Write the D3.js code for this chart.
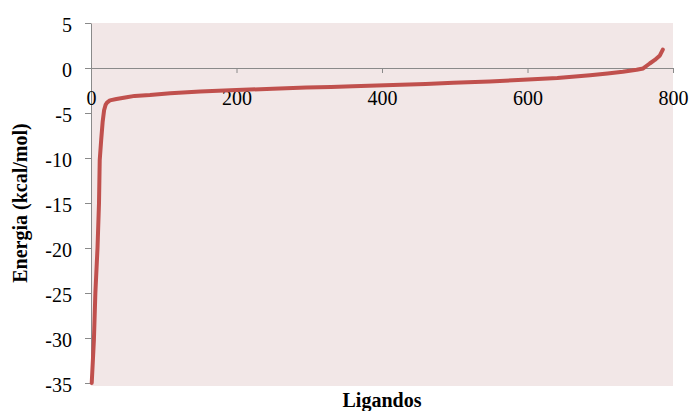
<!DOCTYPE html>
<html>
<head>
<meta charset="utf-8">
<script src="https://cdn.jsdelivr.net/npm/d3@7"></script>
<style>
  html, body { margin: 0; padding: 0; background: #ffffff; }
  svg { display: block; }
  .tick text { font-family: "Liberation Serif", "Times New Roman", serif; font-size: 20px; fill: #000; }
</style>
</head>
<body>
<svg id="chart" width="691" height="411"></svg>
<script>
// Ligand rank (sorted by docking energy) and the energy at that rank
const ranks = [1, 4, 6, 9, 11, 12, 14, 16, 18, 20, 22, 26, 35, 49, 60, 81, 109, 150, 200, 250,
               296, 330, 360, 415, 460, 498, 548, 594, 641, 686, 710, 731, 750, 759, 768, 775, 782, 786];
const energies = [-35, -30.2, -25, -19.9, -15, -10.2, -8, -6, -4.7, -4.1, -3.85, -3.6, -3.45, -3.25, -3.1, -3.0, -2.8, -2.62, -2.45, -2.3,
                  -2.18, -2.1, -2.03, -1.9, -1.78, -1.65, -1.5, -1.3, -1.1, -0.8, -0.6, -0.42, -0.2, -0.05, 0.5, 0.9, 1.4, 2.05];

const xTicks = [0, 200, 400, 600, 800];
const yTicks = [5, 0, -5, -10, -15, -20, -25, -30, -35];

const xTitle = "Ligandos";
const yTitle = "Energia (kcal/mol)";

const svg = d3.select("#chart");
const plotLeft = 91, plotRight = 673, plotTop = 23, plotBottom = 383;

const x = d3.scaleLinear().domain([0, 800]).range([plotLeft, plotRight]);
const y = d3.scaleLinear().domain([-35, 5]).range([plotBottom, plotTop]);

// tick labels use a plain hyphen for negatives
const plainNumber = d => String(d);

// plot area fill
svg.append("rect")
  .attr("x", plotLeft).attr("y", plotTop)
  .attr("width", plotRight - plotLeft).attr("height", plotBottom - plotTop + 3)
  .attr("fill", "#f2e7e7");

const axisColor = "#8a8a8a";

// vertical axis
const gy = svg.append("g")
  .attr("transform", `translate(${plotLeft},0)`)
  .call(d3.axisLeft(y).tickValues(yTicks).tickFormat(plainNumber)
    .tickSize(6).tickSizeOuter(0).tickPadding(13));
gy.select(".domain").attr("stroke", axisColor);
gy.selectAll(".tick line").attr("stroke", axisColor);
gy.selectAll(".tick text").attr("dy", "0.4em");

// horizontal axis drawn through zero
const gx = svg.append("g")
  .attr("transform", `translate(0,${y(0)})`)
  .call(d3.axisBottom(x).tickValues(xTicks).tickFormat(plainNumber)
    .tickSize(5).tickSizeOuter(0));
gx.select(".domain").attr("stroke", axisColor);
gx.selectAll(".tick line").attr("stroke", axisColor);
gx.selectAll(".tick text").attr("y", 37).attr("dy", 0);

// energy curve
const points = ranks.map((r, i) => [r, energies[i]]);
svg.append("path")
  .datum(points)
  .attr("fill", "none")
  .attr("stroke", "#c0504d")
  .attr("stroke-width", 4)
  .attr("stroke-linejoin", "round")
  .attr("stroke-linecap", "round")
  .attr("d", d3.line().x(d => x(d[0])).y(d => y(d[1])));

// axis titles
svg.append("text")
  .attr("x", (plotLeft + plotRight) / 2).attr("y", 407)
  .attr("text-anchor", "middle")
  .attr("font-family", "Liberation Serif, Times New Roman, serif")
  .attr("font-size", 20).attr("font-weight", "bold")
  .text(xTitle);

svg.append("text")
  .attr("transform", `translate(27,${(plotTop + plotBottom) / 2}) rotate(-90)`)
  .attr("text-anchor", "middle")
  .attr("font-family", "Liberation Serif, Times New Roman, serif")
  .attr("font-size", 20).attr("font-weight", "bold")
  .text(yTitle);
</script>
</body>
</html>
